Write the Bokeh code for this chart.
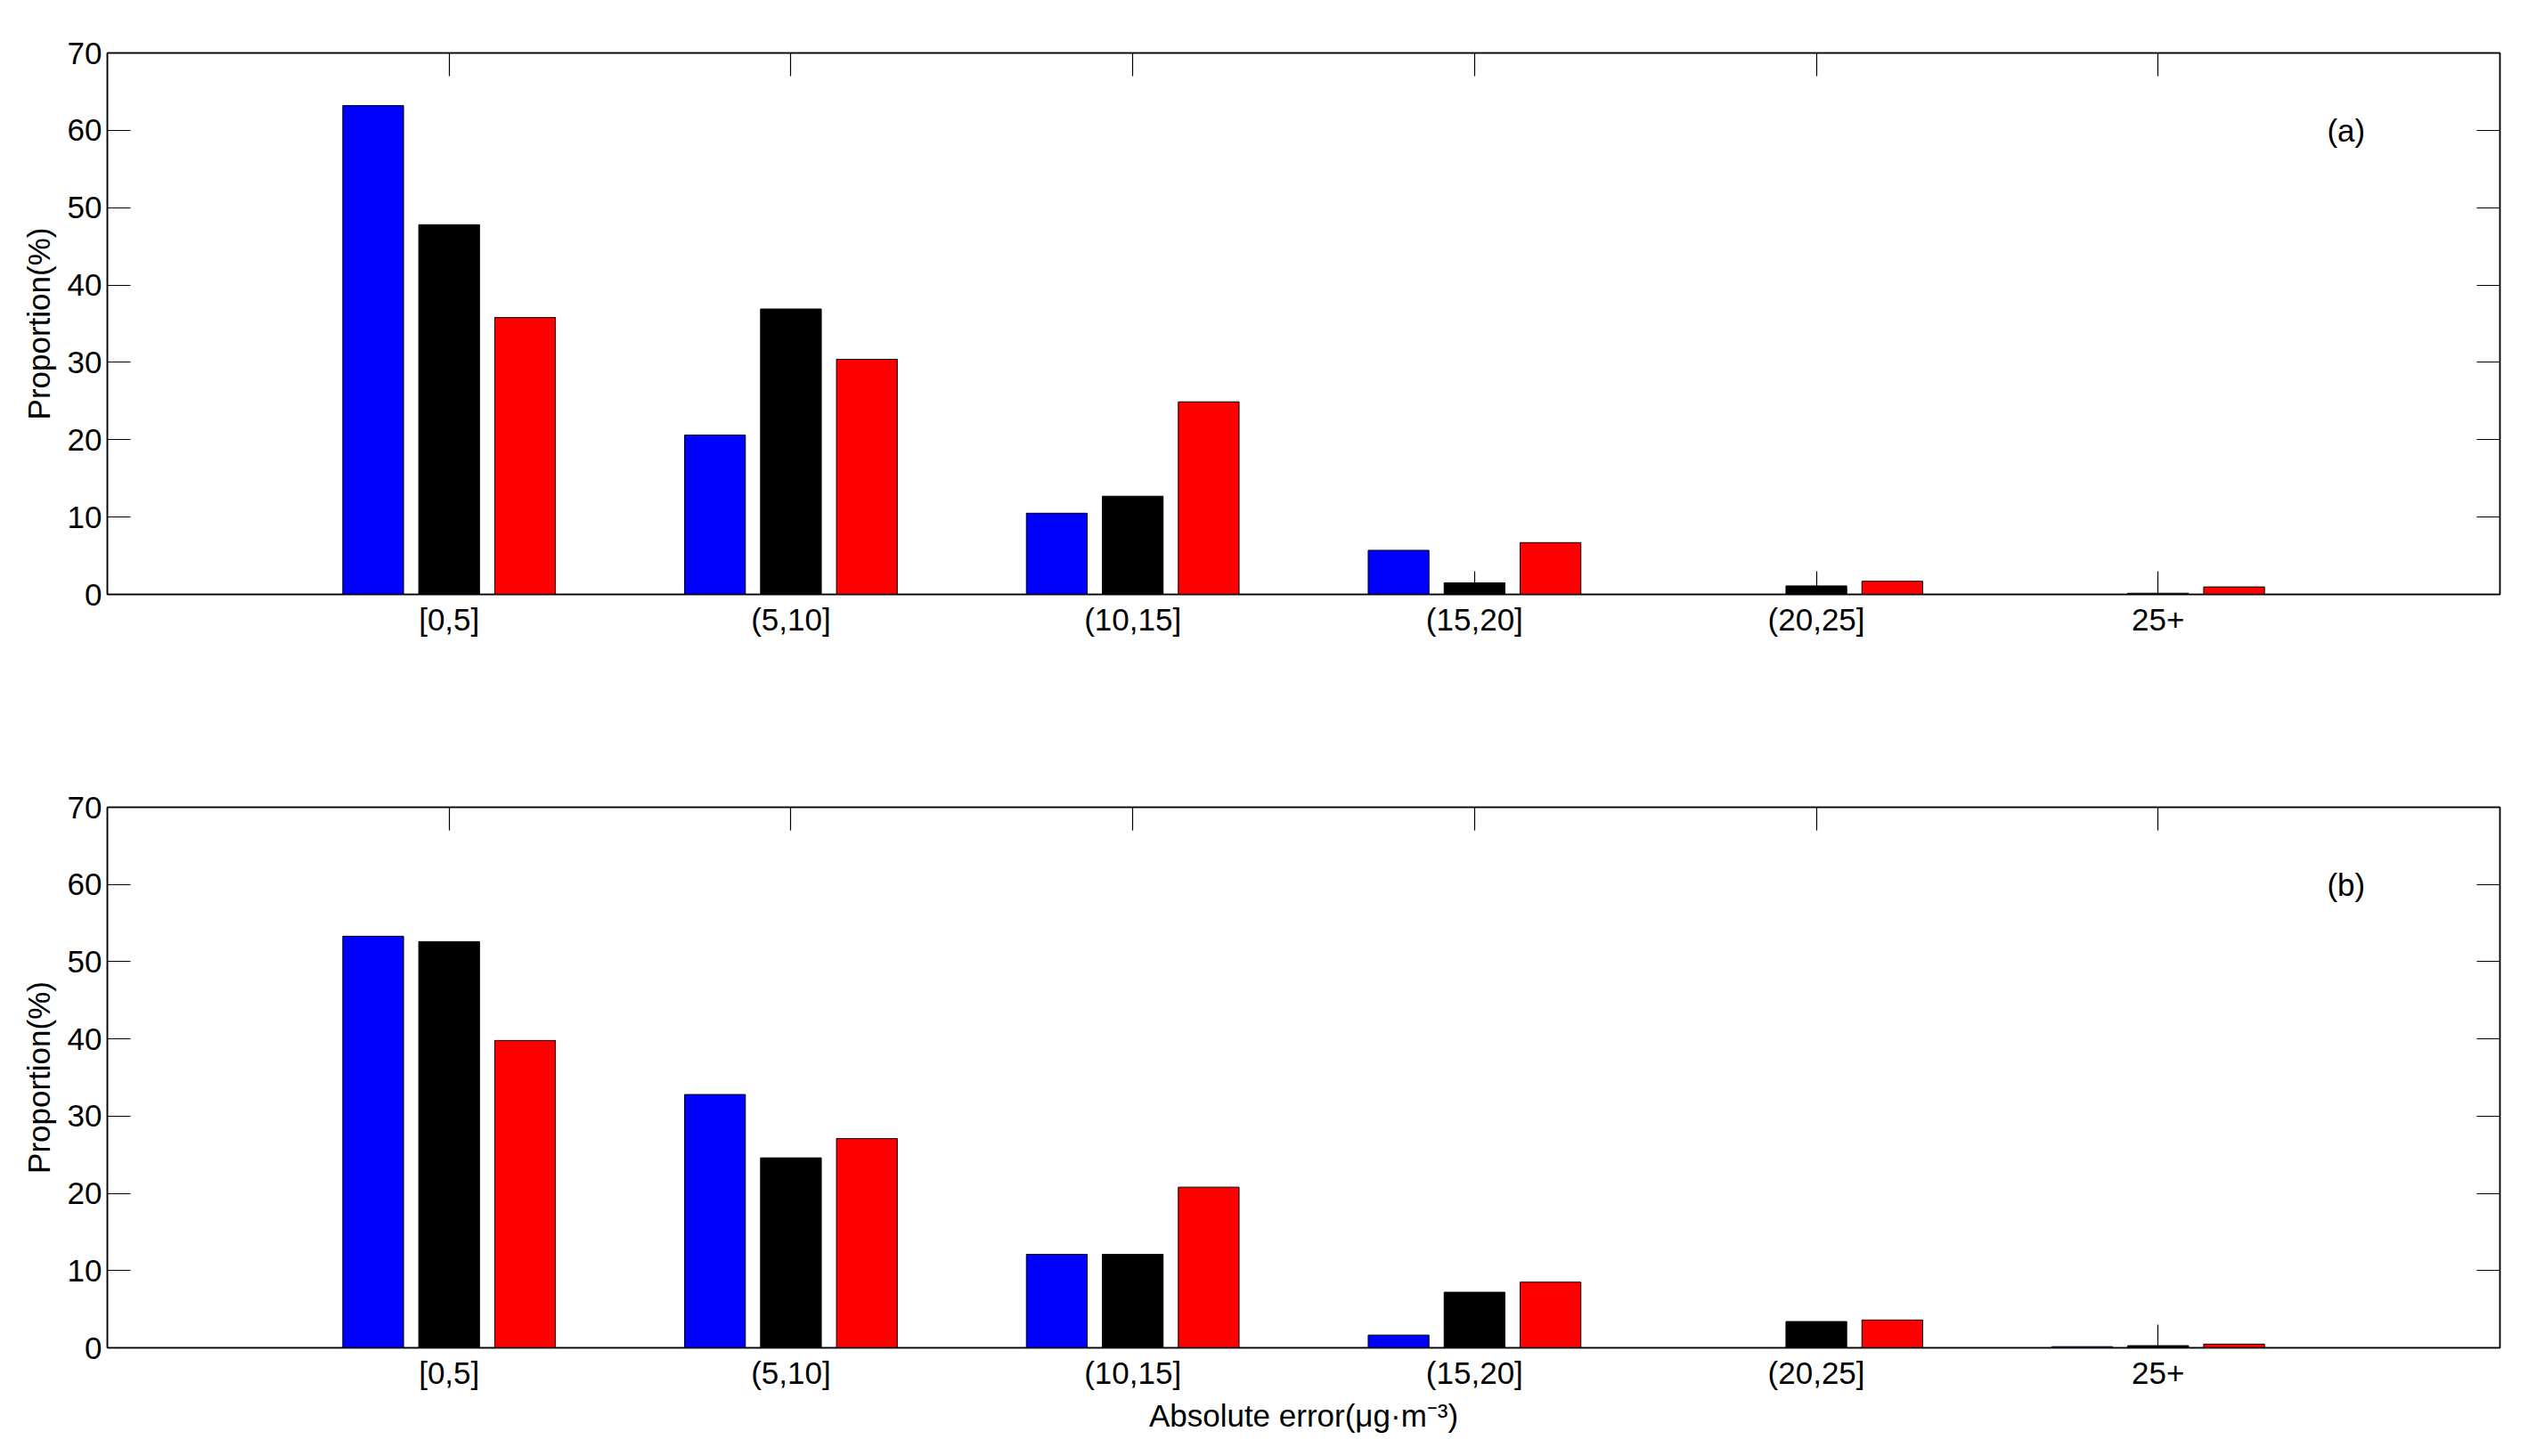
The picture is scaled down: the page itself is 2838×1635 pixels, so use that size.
import numpy as np
from bokeh.plotting import figure
from bokeh.models import Range1d, FixedTicker, LinearAxis, ColumnDataSource, Label
from bokeh.layouts import column
from bokeh.embed import file_html
from bokeh.resources import INLINE

# ---- data ----
categories = ["[0,5]", "(5,10]", "(10,15]", "(15,20]", "(20,25]", "25+"]
y_ticks = [0, 10, 20, 30, 40, 50, 60, 70]
series_colors = ["#0000FF", "#000000", "#FF0000"]

a_blue = [63.2, 20.6, 10.5, 5.7, 0.0, 0.0]
a_black = [47.8, 36.9, 12.7, 1.5, 1.1, 0.15]
a_red = [35.8, 30.4, 24.9, 6.7, 1.7, 0.97]

b_blue = [53.3, 32.8, 12.1, 1.65, 0.0, 0.15]
b_black = [52.6, 24.6, 12.1, 7.2, 3.4, 0.28]
b_red = [39.8, 27.1, 20.8, 8.5, 3.6, 0.48]

panel_names = ["(a)", "(b)"]
x_label = "Absolute error(\u03bcg\u00b7m\u207b\u00b3)"
y_label = "Proportion(%)"

FONT = "Liberation Sans"
FS = "35px"

x_pos = np.arange(1, len(categories) + 1)
n_series = 3
group_w = min(0.8, n_series / (n_series + 1.5))
bar_w = group_w / n_series * 0.8
offsets = [(i - (n_series - 1) / 2) * group_w / n_series for i in range(n_series)]


def make_panel(series, name, show_xlabel, height, top_border, bottom_border):
    p = figure(width=2822, height=height, output_backend="svg", toolbar_location=None,
               x_range=Range1d(0, len(categories) + 1), y_range=Range1d(0, 70),
               min_border_left=120, min_border_right=16,
               min_border_top=top_border, min_border_bottom=bottom_border,
               background_fill_color="white", border_fill_color="white")
    p.grid.visible = False
    p.outline_line_color = "black"
    p.outline_line_width = 1.5

    for vals, col, off in zip(series, series_colors, offsets):
        src = ColumnDataSource(dict(x=x_pos + off, top=vals))
        p.vbar(x="x", top="top", bottom=0, width=bar_w, source=src,
               fill_color=col, line_color="black", line_width=1)

    # bottom axis
    xa = p.xaxis[0]
    xa.ticker = FixedTicker(ticks=list(x_pos))
    xa.major_label_overrides = {int(v): c for v, c in zip(x_pos, categories)}
    # left axis
    ya = p.yaxis[0]
    ya.ticker = FixedTicker(ticks=y_ticks)
    ya.axis_label = y_label
    for ax in (xa, ya):
        ax.major_tick_in = 26
        ax.major_tick_out = 0
        ax.minor_tick_line_color = None
        ax.major_tick_line_width = 1.2
        ax.axis_line_width = 1.5
        ax.major_label_text_font = FONT
        ax.major_label_text_font_size = FS
        ax.major_label_text_color = "black"
        ax.axis_label_text_font = FONT
        ax.axis_label_text_font_size = FS
        ax.axis_label_text_font_style = "normal"
        ax.axis_label_text_color = "black"
    xa.major_label_standoff = 8
    ya.major_label_standoff = 6
    ya.axis_label_standoff = 10
    if show_xlabel:
        xa.axis_label = x_label
        xa.axis_label_standoff = 6

    # top & right axes: ticks only
    top_ax = LinearAxis(ticker=FixedTicker(ticks=list(x_pos)))
    right_ax = LinearAxis(ticker=FixedTicker(ticks=y_ticks))
    for ax in (top_ax, right_ax):
        ax.major_tick_in = 26
        ax.major_tick_out = 0
        ax.minor_tick_line_color = None
        ax.major_tick_line_width = 1.2
        ax.axis_line_width = 1.5
        ax.major_label_text_font_size = "0px"
        ax.major_label_standoff = 0
        ax.major_label_text_alpha = 0
    p.add_layout(top_ax, "above")
    p.add_layout(right_ax, "right")

    p.add_layout(Label(x=6.55, y=60, text=name, text_align="center", text_baseline="middle",
                       text_font=FONT, text_font_size=FS, text_color="black"))
    return p


p1 = make_panel([a_blue, a_black, a_red], panel_names[0], False, 786, 59, 119)
p2 = make_panel([b_blue, b_black, b_red], panel_names[1], True, 841, 120, 114)

layout = column(p1, p2, spacing=0)
open("out.html", "w").write(file_html(layout, INLINE))
